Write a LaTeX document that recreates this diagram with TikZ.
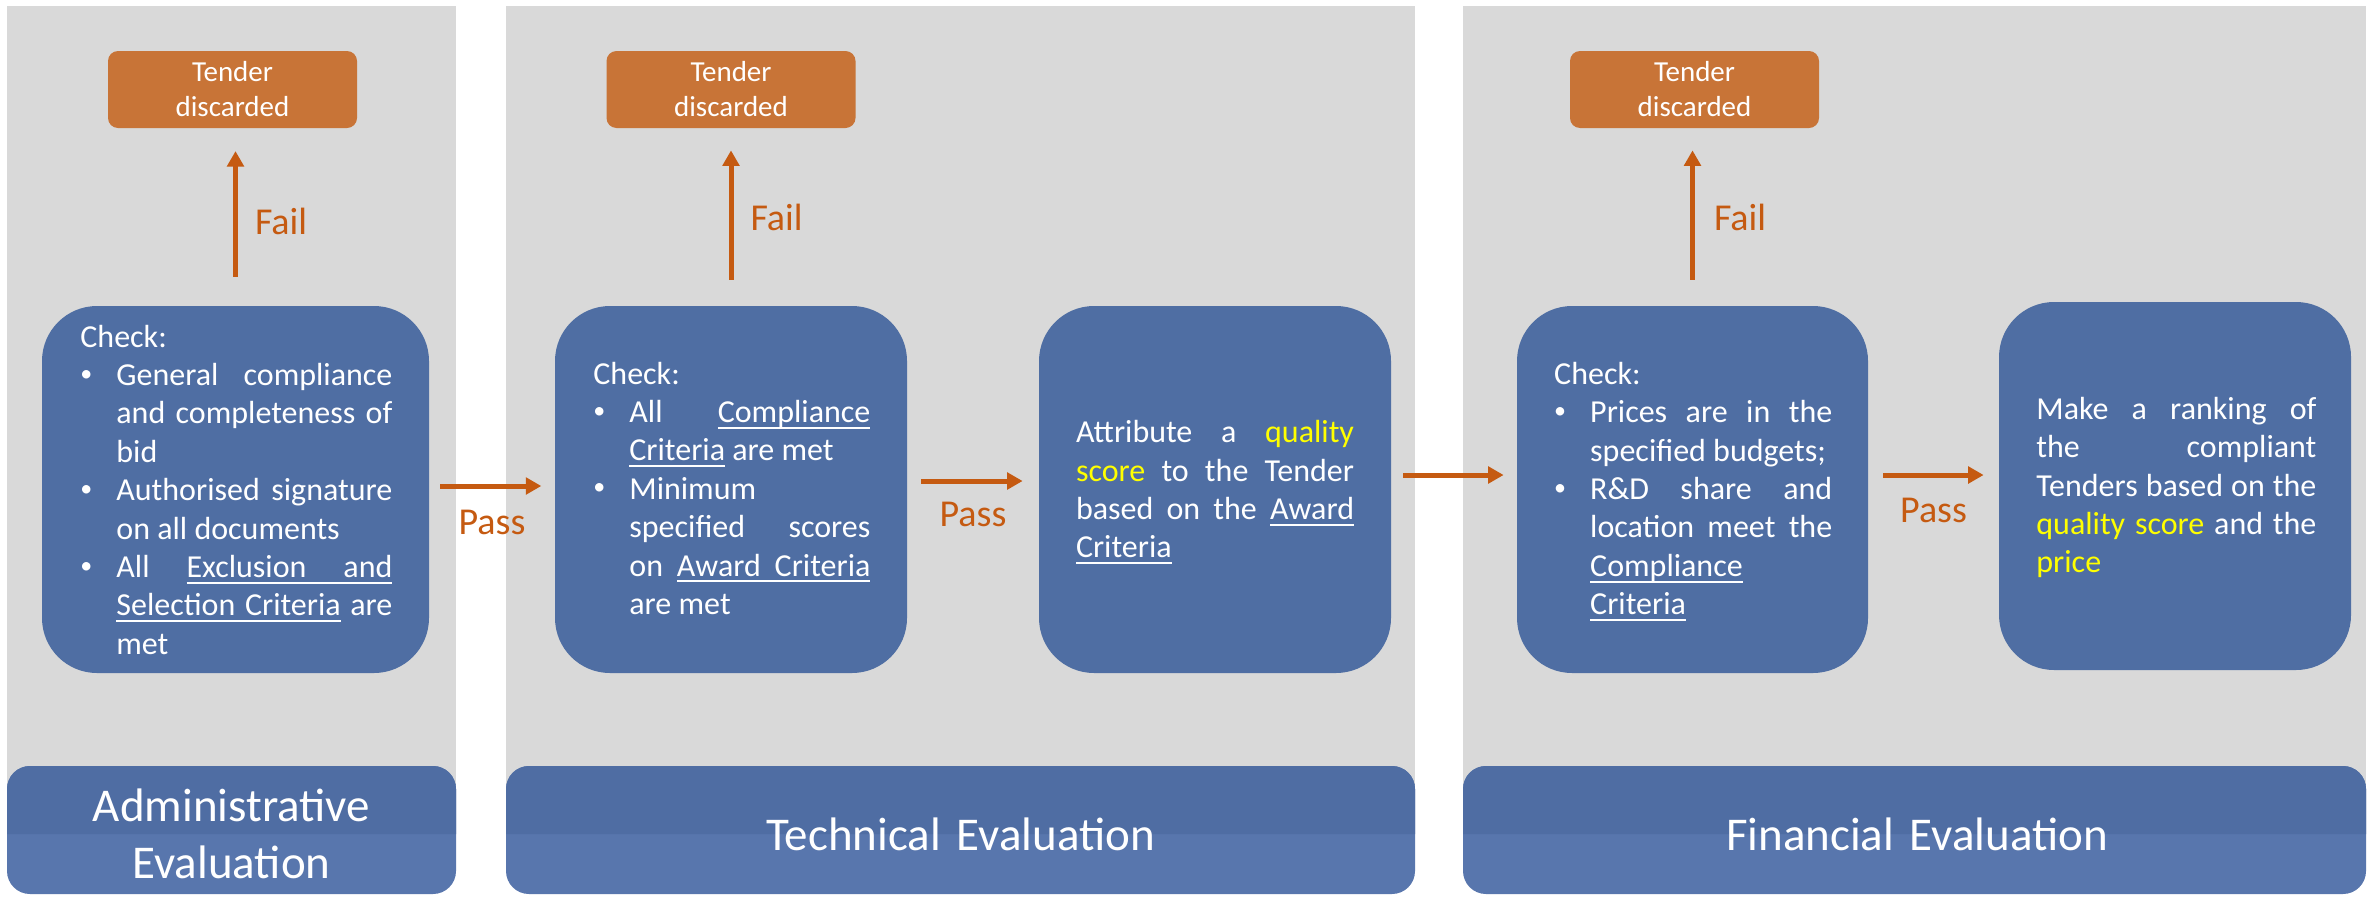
\documentclass[tikz,border=0pt]{standalone}
\usepackage{fontspec}
\setmainfont{Carlito}
\usetikzlibrary{arrows.meta}
\definecolor{panelgray}{HTML}{D9D9D9}
\definecolor{boxblue}{HTML}{4F6EA3}
\definecolor{titledark}{HTML}{4F6DA3}
\definecolor{titlelight}{HTML}{5876AD}
\definecolor{tenderorange}{HTML}{C87437}
\definecolor{arroworange}{HTML}{C55A11}
\definecolor{hiyellow}{HTML}{FFFF00}
\tolerance=10000 \pretolerance=-1 \hyphenpenalty=10000 \exhyphenpenalty=10000 \hbadness=10000 \hfuzz=6pt
\newsavebox\ulsavebox
\newcommand\ulw[1]{\leavevmode\sbox\ulsavebox{#1}\rlap{\vrule height -2.2pt depth 3.1pt width \wd\ulsavebox}\usebox\ulsavebox}
\newcommand\usp{\leaders\hrule height -2.2pt depth 3.1pt\hskip\fontdimen2\font plus\fontdimen3\font minus\fontdimen4\font\relax}
\newcommand\bitem{\par\noindent\leftskip=18pt\relax\hskip-18pt\relax\hbox to 18pt{\raisebox{2.2pt}{\fontsize{12pt}{12pt}\selectfont\textbullet}\hss}}
\newcommand\hl[1]{\textcolor{hiyellow}{#1}}
\newcommand\fbody{\fontsize{16pt}{19.2pt}\selectfont}
\newcommand\ftitle{\fontsize{23.5pt}{28.5pt}\selectfont}
\newcommand\ftender{\fontsize{14.5pt}{17.5pt}\selectfont}
\newcommand\flabel{\fontsize{19pt}{22pt}\selectfont}
\tikzset{
  panel/.style={fill=panelgray},
  bluebox/.style={fill=boxblue, rounded corners=27.5pt, inner sep=0pt, minimum height=183.5pt},
  boxtext/.style={inner sep=0pt, text=white, align=justify, font=\fbody, anchor=base west},
  tenderbox/.style={fill=tenderorange, rounded corners=5pt, inner sep=0pt, minimum width=124.5pt, minimum height=38.5pt, text=white, align=center, text width=120pt, font=\ftender},
  flowarrow/.style={draw=arroworange, line width=2.5pt, -{Triangle[length=7.75pt,width=8.25pt]}},
  lbl/.style={text=arroworange, font=\flabel, inner sep=0pt},
  titletext/.style={text=white, font=\ftitle, align=center, inner sep=0pt}
}
\begin{document}
\begin{tikzpicture}[x=0.5pt,y=-0.5pt]
\useasboundingbox[fill=white] (0,0) rectangle (2369,900);
% panels
\fill[panel] (7,6) rectangle (456,830);
\fill[panel] (506,6) rectangle (1415,830);
\fill[panel] (1463,6) rectangle (2366,830);
% title bars
\foreach \a/\b in {7/456, 506/1415, 1463/2366}{
  \fill[titlelight, rounded corners=11.5pt] (\a,766) rectangle (\b,894);
  \fill[titledark] (\a,834) [rounded corners=11.5pt] -- (\a,766) -- (\b,766) [sharp corners] -- (\b,834) -- cycle;
}
\node[titletext, text width=220pt, anchor=base] (ttl1) at (231.5,821) {Administrative\\Evaluation};
\node[titletext, text width=300pt, anchor=base] (ttl2) at (960.5,850) {Technical Evaluation};
\node[titletext, text width=300pt, anchor=base] (ttl3) at (1917,850) {Financial Evaluation};
% tender discarded
\node[tenderbox] (t1) at (232.5,89.5) {Tender\\discarded};
\node[tenderbox] (t2) at (731,89.5) {Tender\\discarded};
\node[tenderbox] (t3) at (1694.5,89.5) {Tender\\discarded};
% blue boxes
\node[bluebox, minimum width=193.5pt] (c1) at (235.5,489.5) {};
\node[bluebox, minimum width=176pt] (c2) at (731,489.5) {};
\node[bluebox, minimum width=176pt] (q2) at (1215,489.5) {};
\node[bluebox, minimum width=175.5pt] (c3) at (1692.5,489.5) {};
\node[bluebox, minimum width=176pt, minimum height=184pt] (r3) at (2175,486) {};
% box texts
\node[boxtext, text width=156pt] (c1txt) at (80,347) {Check:\bitem General compliance\linebreak and completeness of\linebreak bid\bitem Authorised signature\linebreak on all documents\bitem All \ulw{Exclusion}\usp\ulw{and}\linebreak \ulw{Selection}\usp\ulw{Criteria} are\linebreak met\par};
\node[boxtext, text width=138.5pt] (c2txt) at (593,384) {Check:\bitem All \ulw{Compliance}\linebreak \ulw{Criteria} are met\bitem Minimum\newline specified scores\linebreak on \ulw{Award}\usp\ulw{Criteria}\linebreak are met\par};
\node[boxtext, text width=139pt] (q2txt) at (1075.6,442.7) {Attribute a \hl{quality}\linebreak \hl{score} to the Tender\linebreak based on the \ulw{Award}\linebreak \ulw{Criteria}\par};
\node[boxtext, text width=139pt] (c3txt) at (1553.8,384.3) {Check:\bitem Prices are in the\linebreak specified budgets;\bitem R\&D share and\linebreak location meet the\linebreak \ulw{Compliance}\newline \ulw{Criteria}\par};
\node[boxtext, text width=140pt] (r3txt) at (2036,419.3) {Make a ranking of\linebreak the compliant\linebreak Tenders based on the\linebreak \hl{quality score} and the\linebreak \hl{price}\par};
% fail arrows
\draw[flowarrow, shorten <=14.5pt, shorten >=11.35pt] (c1.north) -- (c1.north |- t1.south) node[lbl, midway, anchor=base west, xshift=8.5pt, yshift=-8.5pt] (f1) {Fail};
\draw[flowarrow, shorten <=13pt, shorten >=11pt] (c2.north) -- (c2.north |- t2.south) node[lbl, midway, anchor=base west, xshift=8.5pt, yshift=-6.5pt] (f2) {Fail};
\draw[flowarrow, shorten <=13pt, shorten >=11pt] (c3.north) -- (c3.north |- t3.south) node[lbl, midway, anchor=base west, xshift=9.5pt, yshift=-6.5pt] (f3) {Fail};
% pass arrows
\draw[flowarrow, shorten <=5.5pt, shorten >=6.65pt] ([yshift=1.75pt]c1.east) -- ([yshift=1.75pt]c1.east -| c2.west) node[lbl, midway, anchor=base, yshift=-24pt] (p1) {Pass};
\draw[flowarrow, shorten <=7pt, shorten >=8pt] ([yshift=4.25pt]c2.east) -- ([yshift=4.25pt]c2.east -| q2.west) node[lbl, midway, anchor=base, yshift=-22.5pt] (p2) {Pass};
\draw[flowarrow, shorten <=6pt, shorten >=6.5pt] ([yshift=7.25pt]q2.east) -- ([yshift=7.25pt]q2.east -| c3.west);
\draw[flowarrow, shorten <=7.5pt, shorten >=7.5pt] ([yshift=7.25pt]c3.east) -- ([yshift=7.25pt]c3.east -| r3.west) node[lbl, midway, anchor=base, yshift=-23.5pt] (p3) {Pass};
\end{tikzpicture}
\end{document}
